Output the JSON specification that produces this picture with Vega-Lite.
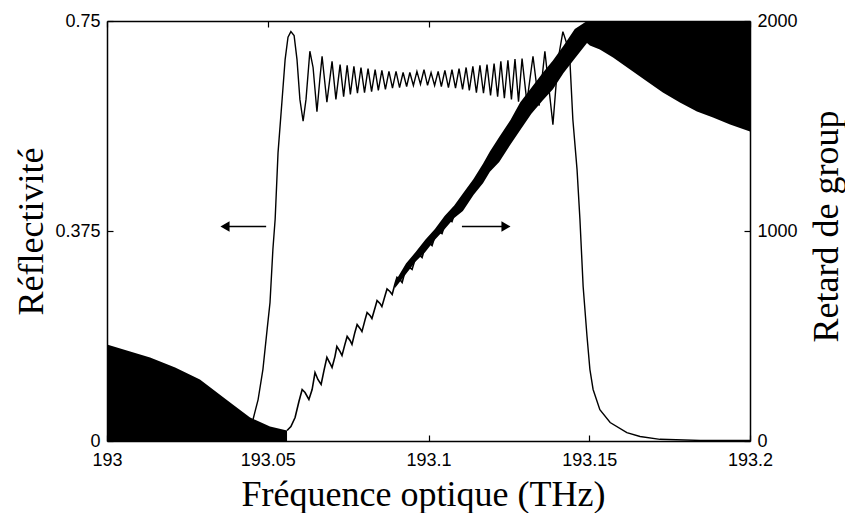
{
  "$schema": "https://vega.github.io/schema/vega-lite/v6.json",
  "width": 643,
  "height": 420,
  "autosize": {"type": "none"},
  "padding": {"left": 107, "top": 21, "right": 95, "bottom": 72},
  "background": "white",
  "config": {
    "view": {"stroke": null},
    "axis": {
      "labelFont": "Liberation Sans", "labelFontSize": 18, "labelColor": "black", "labelFlush": false,
      "titleFont": "Liberation Serif", "titleFontSize": 36, "titleFontWeight": "normal", "titleColor": "black",
      "domainColor": "black", "domainWidth": 1.5, "tickColor": "black", "tickWidth": 1.2, "grid": false
    }
  },
  "datasets": {
    "refl": [
      {"f":193.0,"r":0.001},{"f":193.029,"r":0.003},{"f":193.0414,"r":0.008},{"f":193.0445,"r":0.02},
      {"f":193.0454,"r":0.038},{"f":193.047,"r":0.074},{"f":193.0485,"r":0.128},{"f":193.0498,"r":0.199},
      {"f":193.0507,"r":0.247},{"f":193.0516,"r":0.342},{"f":193.0523,"r":0.396},{"f":193.0532,"r":0.515},
      {"f":193.0544,"r":0.605},{"f":193.0554,"r":0.681},{"f":193.0563,"r":0.721},{"f":193.0572,"r":0.731},
      {"f":193.0582,"r":0.724},{"f":193.0591,"r":0.681},{"f":193.06,"r":0.61},{"f":193.061,"r":0.571},
      {"f":193.0619,"r":0.61},{"f":193.0631,"r":0.696},{"f":193.0641,"r":0.667},{"f":193.0653,"r":0.588},
      {"f":193.0662,"r":0.646},{"f":193.0669,"r":0.687},{"f":193.0684,"r":0.605},{"f":193.07,"r":0.678},
      {"f":193.0712,"r":0.61},{"f":193.0725,"r":0.672},{"f":193.0736,"r":0.615},{"f":193.0747,"r":0.671},
      {"f":193.0757,"r":0.619},{"f":193.0768,"r":0.669},{"f":193.0779,"r":0.621},{"f":193.079,"r":0.667},
      {"f":193.0801,"r":0.622},{"f":193.0812,"r":0.665},{"f":193.0823,"r":0.624},{"f":193.0834,"r":0.663},
      {"f":193.0844,"r":0.626},{"f":193.0855,"r":0.662},{"f":193.0866,"r":0.628},{"f":193.0877,"r":0.66},
      {"f":193.0888,"r":0.63},{"f":193.0899,"r":0.66},{"f":193.091,"r":0.631},{"f":193.0921,"r":0.658},
      {"f":193.0932,"r":0.633},{"f":193.0942,"r":0.658},{"f":193.0953,"r":0.635},{"f":193.0964,"r":0.66},
      {"f":193.0975,"r":0.637},{"f":193.0986,"r":0.663},{"f":193.0997,"r":0.635},{"f":193.1008,"r":0.658},
      {"f":193.1019,"r":0.635},{"f":193.103,"r":0.66},{"f":193.104,"r":0.633},{"f":193.1051,"r":0.662},
      {"f":193.1062,"r":0.631},{"f":193.1073,"r":0.663},{"f":193.1084,"r":0.63},{"f":193.1095,"r":0.665},
      {"f":193.1106,"r":0.628},{"f":193.1117,"r":0.667},{"f":193.1127,"r":0.626},{"f":193.1138,"r":0.669},
      {"f":193.1149,"r":0.622},{"f":193.116,"r":0.671},{"f":193.1171,"r":0.621},{"f":193.1182,"r":0.672},
      {"f":193.1193,"r":0.617},{"f":193.1204,"r":0.674},{"f":193.1215,"r":0.615},{"f":193.1225,"r":0.678},
      {"f":193.1236,"r":0.612},{"f":193.1247,"r":0.68},{"f":193.1258,"r":0.61},{"f":193.1269,"r":0.682},
      {"f":193.128,"r":0.606},{"f":193.1291,"r":0.683},{"f":193.1306,"r":0.605},{"f":193.1325,"r":0.687},
      {"f":193.1344,"r":0.599},{"f":193.1362,"r":0.696},{"f":193.1387,"r":0.565},{"f":193.1403,"r":0.681},
      {"f":193.1418,"r":0.731},{"f":193.1431,"r":0.708},{"f":193.144,"r":0.677},{"f":193.1449,"r":0.574},
      {"f":193.1462,"r":0.485},{"f":193.1471,"r":0.396},{"f":193.1481,"r":0.276},{"f":193.1493,"r":0.187},
      {"f":193.1502,"r":0.128},{"f":193.1512,"r":0.092},{"f":193.1533,"r":0.056},{"f":193.1565,"r":0.033},
      {"f":193.1617,"r":0.015},{"f":193.1658,"r":0.008},{"f":193.172,"r":0.003},{"f":193.1845,"r":0.001},
      {"f":193.2,"r":0.001}
    ],
    "arrows": [
      {"tail":193.0495,"head":193.0367,"r":0.383,"dir":"left"},
      {"tail":193.1104,"head":193.1241,"r":0.383,"dir":"right"}
    ],
    "denseLeft": [
      {"f":193.0,"d":460},{"f":193.0072,"d":426},{"f":193.0134,"d":398},{"f":193.0212,"d":350},
      {"f":193.0289,"d":293},{"f":193.0383,"d":183},{"f":193.0445,"d":112},{"f":193.0507,"d":69},
      {"f":193.056,"d":50}
    ],
    "denseRight": [
      {"f":193.1493,"d":1895},{"f":193.1502,"d":1883},{"f":193.1533,"d":1864},
      {"f":193.1574,"d":1826},{"f":193.1627,"d":1769},{"f":193.168,"d":1712},{"f":193.1729,"d":1660},
      {"f":193.1782,"d":1612},{"f":193.1835,"d":1569},{"f":193.1885,"d":1540},{"f":193.1938,"d":1507},
      {"f":193.2,"d":1474}
    ],
    "band": [
      {"f":193.0896,"lo":728,"hi":758},{"f":193.093,"lo":795,"hi":845},{"f":193.096,"lo":855,"hi":900},
      {"f":193.099,"lo":900,"hi":958},{"f":193.102,"lo":958,"hi":1010},{"f":193.105,"lo":1008,"hi":1072},
      {"f":193.108,"lo":1062,"hi":1122},{"f":193.1107,"lo":1095,"hi":1178},{"f":193.114,"lo":1172,"hi":1248},
      {"f":193.117,"lo":1228,"hi":1322},{"f":193.1191,"lo":1282,"hi":1378},{"f":193.122,"lo":1328,"hi":1448},
      {"f":193.1255,"lo":1412,"hi":1528},{"f":193.1285,"lo":1480,"hi":1612},{"f":193.132,"lo":1558,"hi":1682},
      {"f":193.1355,"lo":1622,"hi":1752},{"f":193.1387,"lo":1675,"hi":1812},{"f":193.142,"lo":1752,"hi":1882},
      {"f":193.1455,"lo":1822,"hi":1962},{"f":193.1493,"lo":1895,"hi":2000},{"f":193.1502,"lo":1900,"hi":2000}
    ],
    "delay": [
      {"f":193.056,"d":50},{"f":193.0572,"d":69},{"f":193.0585,"d":112},{"f":193.0597,"d":188},
      {"f":193.0607,"d":245},{"f":193.0616,"d":231},{"f":193.0628,"d":198},{"f":193.0638,"d":245},
      {"f":193.0647,"d":326},{"f":193.0656,"d":293},{"f":193.0666,"d":269},{"f":193.0675,"d":336},
      {"f":193.0684,"d":398},{"f":193.0694,"d":369},{"f":193.07,"d":350},{"f":193.0709,"d":402},
      {"f":193.0715,"d":450},{"f":193.0725,"d":426},{"f":193.0731,"d":407},{"f":193.074,"d":460},
      {"f":193.0747,"d":498},{"f":193.0756,"d":479},{"f":193.0762,"d":460},{"f":193.0771,"d":517},
      {"f":193.0778,"d":555},{"f":193.0787,"d":536},{"f":193.0793,"d":521},{"f":193.0803,"d":579},
      {"f":193.0809,"d":612},{"f":193.0818,"d":598},{"f":193.0824,"d":583},{"f":193.0834,"d":636},
      {"f":193.084,"d":669},{"f":193.0849,"d":655},{"f":193.0855,"d":640},{"f":193.0865,"d":693},
      {"f":193.0871,"d":724},{"f":193.088,"d":712},{"f":193.0887,"d":698},{"f":193.0896,"d":750},
      {"f":193.0902,"d":779},{"f":193.0911,"d":769},{"f":193.0918,"d":755},{"f":193.0927,"d":807},
      {"f":193.0933,"d":836},{"f":193.0942,"d":826},{"f":193.0949,"d":817},{"f":193.0958,"d":864},
      {"f":193.0964,"d":893},{"f":193.0974,"d":883},{"f":193.098,"d":874},{"f":193.0989,"d":921},
      {"f":193.0995,"d":950},{"f":193.1005,"d":940},{"f":193.1011,"d":931},{"f":193.102,"d":974},
      {"f":193.1026,"d":1002},{"f":193.1036,"d":993},{"f":193.1042,"d":988},{"f":193.1051,"d":1031},
      {"f":193.1058,"d":1060},{"f":193.1067,"d":1050},{"f":193.1073,"d":1045},{"f":193.1082,"d":1088},
      {"f":193.1089,"d":1117},{"f":193.1107,"d":1136},{"f":193.1145,"d":1210},{"f":193.1191,"d":1331},
      {"f":193.1238,"d":1430},{"f":193.1285,"d":1545},{"f":193.1338,"d":1640},{"f":193.1387,"d":1745},
      {"f":193.144,"d":1830},{"f":193.1493,"d":1950},{"f":193.1518,"d":2000}
    ]
  },
  "layer": [
    {
      "layer": [
        {
          "data": {"name": "refl"},
          "mark": {"type": "line", "color": "black", "strokeWidth": 1.4, "clip": true},
          "encoding": {
            "x": {"field": "f", "type": "quantitative", "scale": {"domain": [193, 193.2], "nice": false, "zero": false},
              "axis": {"orient": "bottom", "values": [193, 193.05, 193.1, 193.15, 193.2], "format": ".2~f",
                "tickSize": -6, "labelPadding": 16, "title": "Fréquence optique (THz)",
                "titleX": 316, "titleY": 64, "titleBaseline": "alphabetic", "titleAlign": "center"}},
            "y": {"field": "r", "type": "quantitative", "scale": {"domain": [0, 0.75], "nice": false, "zero": true},
              "axis": {"orient": "left", "values": [0, 0.375, 0.75], "format": ".3~f",
                "tickSize": -6, "labelPadding": 13, "title": "Réflectivité",
                "titleX": -65, "titleY": 210, "titleAngle": -90, "titleBaseline": "alphabetic", "titleAlign": "center"}}
          }
        },
        {
          "data": {"name": "arrows"},
          "mark": {"type": "rule", "color": "black", "strokeWidth": 1.5},
          "encoding": {
            "x": {"field": "tail", "type": "quantitative"},
            "x2": {"field": "head"},
            "y": {"field": "r", "type": "quantitative"}
          }
        },
        {
          "data": {"name": "arrows"},
          "mark": {"type": "point", "filled": true, "color": "black", "size": 110, "opacity": 1},
          "encoding": {
            "x": {"field": "head", "type": "quantitative"},
            "y": {"field": "r", "type": "quantitative"},
            "shape": {"field": "dir", "type": "nominal", "scale": {"domain": ["left", "right"], "range": ["triangle-left", "triangle-right"]}, "legend": null}
          }
        }
      ]
    },
    {
      "layer": [
        {
          "data": {"name": "denseLeft"},
          "mark": {"type": "area", "color": "black", "clip": true},
          "encoding": {
            "x": {"field": "f", "type": "quantitative", "scale": {"domain": [193, 193.2], "nice": false, "zero": false},
              "axis": {"orient": "top", "values": [193, 193.05, 193.1, 193.15, 193.2], "labels": false, "tickSize": -6, "title": null}},
            "y": {"field": "d", "type": "quantitative", "scale": {"domain": [0, 2000], "nice": false},
              "axis": {"orient": "right", "values": [0, 1000, 2000], "format": "d",
                "tickSize": -6, "labelPadding": 13, "title": "Retard de group",
                "titleX": 87, "titleY": 205, "titleAngle": -90, "titleBaseline": "alphabetic", "titleAlign": "center"}},
            "y2": {"datum": 0}
          }
        },
        {
          "data": {"name": "denseRight"},
          "mark": {"type": "area", "color": "black", "clip": true},
          "encoding": {
            "x": {"field": "f", "type": "quantitative"},
            "y": {"field": "d", "type": "quantitative"},
            "y2": {"datum": 2000}
          }
        },
        {
          "data": {"name": "band"},
          "mark": {"type": "area", "color": "black", "clip": true},
          "encoding": {
            "x": {"field": "f", "type": "quantitative"},
            "y": {"field": "lo", "type": "quantitative"},
            "y2": {"field": "hi"}
          }
        },
        {
          "data": {"name": "delay"},
          "mark": {"type": "line", "color": "black", "strokeWidth": 1.6, "clip": true},
          "encoding": {
            "x": {"field": "f", "type": "quantitative"},
            "y": {"field": "d", "type": "quantitative"}
          }
        }
      ]
    }
  ],
  "resolve": {"scale": {"y": "independent"}, "axis": {"x": "independent"}}
}
